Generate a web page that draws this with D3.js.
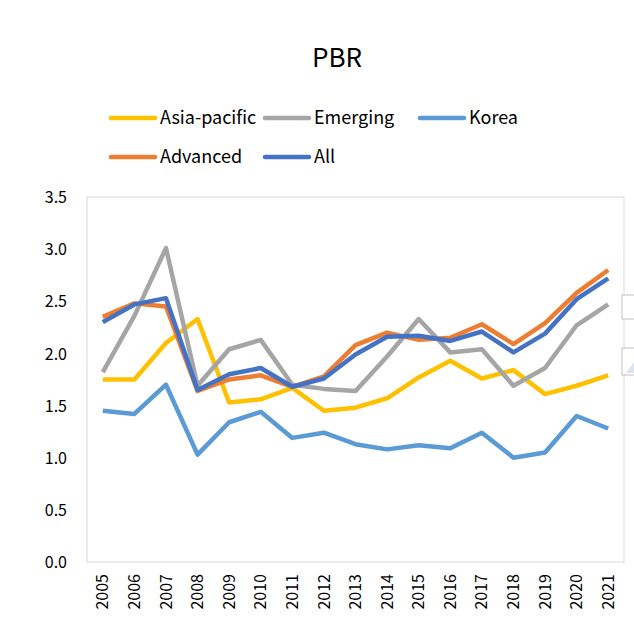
<!DOCTYPE html>
<html>
<head>
<meta charset="utf-8">
<script src="https://cdn.jsdelivr.net/npm/d3@7"></script>
<style>
  body { margin: 0; background: #fff; }
  svg text { font-family: "Noto Sans CJK KR", "Noto Sans", sans-serif; fill: #000; }
</style>
</head>
<body>
<svg width="634" height="637"></svg>
<script>
const years = ["2005","2006","2007","2008","2009","2010","2011","2012","2013","2014","2015","2016","2017","2018","2019","2020","2021"];
const asiaPacific = [1.75, 1.75, 2.10, 2.33, 1.53, 1.56, 1.67, 1.45, 1.48, 1.57, 1.77, 1.93, 1.76, 1.84, 1.61, 1.69, 1.79];
const emerging    = [1.82, 2.36, 3.01, 1.69, 2.04, 2.13, 1.70, 1.66, 1.64, 1.97, 2.33, 2.01, 2.04, 1.69, 1.86, 2.27, 2.47];
const korea       = [1.45, 1.42, 1.70, 1.03, 1.34, 1.44, 1.19, 1.24, 1.13, 1.08, 1.12, 1.09, 1.24, 1.00, 1.05, 1.40, 1.28];
const advanced    = [2.35, 2.48, 2.45, 1.64, 1.75, 1.79, 1.68, 1.78, 2.08, 2.20, 2.13, 2.15, 2.28, 2.09, 2.29, 2.58, 2.80];
const all         = [2.30, 2.47, 2.53, 1.65, 1.80, 1.86, 1.68, 1.76, 1.99, 2.16, 2.17, 2.12, 2.21, 2.01, 2.19, 2.52, 2.72];
const yTicks = [0, 0.5, 1.0, 1.5, 2.0, 2.5, 3.0, 3.5];

const series = [
  { name: "Asia-pacific", values: asiaPacific, color: "#FFC000" },
  { name: "Emerging", values: emerging, color: "#A5A5A5" },
  { name: "Korea", values: korea, color: "#5B9BD5" },
  { name: "Advanced", values: advanced, color: "#ED7D31" },
  { name: "All", values: all, color: "#4472C4" }
];

const svg = d3.select("svg");
const plot = { left: 87, right: 624, top: 197, bottom: 562 };

const x = d3.scaleBand().domain(years).range([plot.left, plot.right]);
const y = d3.scaleLinear().domain([0, 3.5]).range([plot.bottom, plot.top]);

// frame
svg.append("rect")
    .attr("x", plot.left).attr("y", plot.top)
    .attr("width", plot.right - plot.left).attr("height", plot.bottom - plot.top)
    .attr("fill", "none").attr("stroke", "#d9d9d9").attr("stroke-width", 1);

// title
svg.append("text")
    .attr("x", 337).attr("y", 67)
    .attr("text-anchor", "middle")
    .style("font-size", "26px")
    .text("PBR");

// y axis
const yAxis = svg.append("g")
    .attr("transform", `translate(${plot.left - 20},0)`)
    .call(d3.axisLeft(y).tickValues(yTicks).tickFormat(d3.format(".1f")).tickSize(0).tickPadding(0));
yAxis.select(".domain").remove();
yAxis.selectAll("text").style("font-size", "16px").attr("font-family", null).attr("dy", "0.35em");

// x axis
const xAxis = svg.append("g")
    .attr("transform", `translate(0,${plot.bottom})`)
    .call(d3.axisBottom(x).tickSize(0));
xAxis.select(".domain").remove();
xAxis.selectAll("text")
    .style("font-size", "16px")
    .attr("font-family", null)
    .attr("text-anchor", "end")
    .attr("transform", "rotate(-90)")
    .attr("x", -12).attr("y", 0).attr("dy", "0.35em");

// lines
const line = d3.line()
    .x((d, i) => x(years[i]) + x.bandwidth() / 2)
    .y(d => y(d));

svg.append("g").selectAll("path")
    .data(series)
    .join("path")
    .attr("d", d => line(d.values))
    .attr("fill", "none")
    .attr("stroke", d => d.color)
    .attr("stroke-width", 4.5)
    .attr("stroke-linejoin", "round");

// legend
const legendPos = [
  { x: 111, y: 118 }, { x: 265, y: 118 }, { x: 420, y: 118 },
  { x: 111, y: 157 }, { x: 265, y: 157 }
];
const legend = svg.append("g").selectAll("g")
    .data(series)
    .join("g")
    .attr("transform", (d, i) => `translate(${legendPos[i].x},${legendPos[i].y})`);
legend.append("line")
    .attr("x1", 0).attr("x2", 44)
    .attr("stroke", d => d.color)
    .attr("stroke-width", 4.5)
    .attr("stroke-linecap", "round");
legend.append("text")
    .attr("x", 49).attr("dy", "0.35em")
    .style("font-size", "18px")
    .text(d => d.name);

// little side widgets at the right edge
svg.append("rect").attr("x", 622).attr("y", 295).attr("width", 14).attr("height", 24)
    .attr("fill", "#fff").attr("stroke", "#bfbfbf");
svg.append("rect").attr("x", 622).attr("y", 348).attr("width", 14).attr("height", 27)
    .attr("fill", "#fff").attr("stroke", "#bfbfbf");
svg.append("path").attr("d", "M626,373 L634,362 L634,373 Z").attr("fill", "#dbe3f0");
</script>
</body>
</html>
